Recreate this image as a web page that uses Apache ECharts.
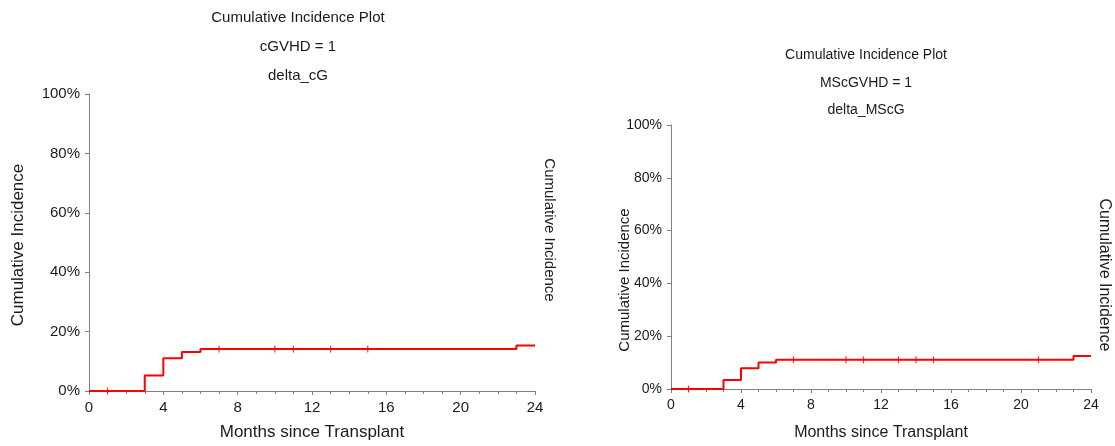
<!DOCTYPE html>
<html>
<head>
<meta charset="utf-8">
<script src="https://cdn.jsdelivr.net/npm/echarts@6/dist/echarts.min.js"></script>
<style>
html,body{margin:0;padding:0;background:#fff;}
#c{width:1115px;height:446px;}
</style>
</head>
<body>
<div id="c"></div>
<script>
// Left panel: cGVHD = 1
var leftTitle = ['Cumulative Incidence Plot', 'cGVHD = 1', 'delta_cG'];
var leftSteps = [[0, 0], [3, 5.25], [4, 11.0], [5, 13.1], [6, 14.1], [23, 15.3], [24, 15.3]];
var leftCensor = [[1, 0], [7, 14.1], [10, 14.1], [11, 14.1], [13, 14.1], [15, 14.1]];

// Right panel: MScGVHD = 1
var rightTitle = ['Cumulative Incidence Plot', 'MScGVHD = 1', 'delta_MScG'];
var rightSteps = [[0, 0], [3, 3.4], [4, 7.9], [5, 10.0], [6, 11.06], [23, 12.5], [24, 12.5]];
var rightCensor = [[1, 0], [7, 11.06], [10, 11.06], [11, 11.06], [13, 11.06], [14, 11.06], [15, 11.06], [21, 11.06]];

var xLabelText = 'Months since Transplant';
var yLabelText = 'Cumulative Incidence';

var FF = '"Liberation Sans", Arial, sans-serif';
var AX = '#808080';
var TX = '#1a1a1a';

function xAxisCfg(idx, fs, margin, nameFs, nameGap) {
  return {
    type: 'value', gridIndex: idx, min: 0, max: 24, interval: 4,
    name: xLabelText, nameLocation: 'middle', nameGap: nameGap,
    nameTextStyle: {fontFamily: FF, fontSize: nameFs, color: TX},
    axisLine: {show: true, lineStyle: {color: AX, width: 1}},
    axisTick: {show: true, inside: false, length: 4, lineStyle: {color: AX}},
    minorTick: {show: true, splitNumber: 4, length: 3, lineStyle: {color: AX}},
    axisLabel: {fontFamily: FF, fontSize: fs, color: TX, margin: margin},
    splitLine: {show: false}
  };
}
function yAxisCfg(idx, fs, margin) {
  return {
    type: 'value', gridIndex: idx, min: 0, max: 100, interval: 20,
    axisLine: {show: true, lineStyle: {color: AX, width: 1}},
    axisTick: {show: true, inside: false, length: 4, lineStyle: {color: AX}},
    axisLabel: {fontFamily: FF, fontSize: fs, color: TX, margin: margin, formatter: '{value}%'},
    splitLine: {show: false}
  };
}
function stepSeries(idx, data) {
  return {
    type: 'line', xAxisIndex: idx, yAxisIndex: idx, step: 'end', data: data,
    showSymbol: false, symbol: 'none', animation: false,
    lineStyle: {color: '#ff0000', width: 2}
  };
}
function censorSeries(idx, data) {
  return {
    type: 'scatter', xAxisIndex: idx, yAxisIndex: idx, data: data,
    symbol: 'rect', symbolSize: [1.2, 7], animation: false,
    itemStyle: {color: '#ff0000'}
  };
}
function txt(s, x, y, fs, rot) {
  return {
    type: 'text', x: x, y: y, rotation: rot || 0, silent: true,
    style: {text: s, font: fs + 'px ' + FF, fontSize: fs, fontFamily: FF, fill: TX,
            align: 'center', verticalAlign: 'middle', textAlign: 'center', textVerticalAlign: 'middle'}
  };
}

var chart = echarts.init(document.getElementById('c'), null, {renderer: 'canvas'});
chart.setOption({
  backgroundColor: '#ffffff',
  animation: false,
  grid: [
    {left: 89, top: 94, width: 446, height: 299},
    {left: 671, top: 125, width: 420, height: 274}
  ],
  xAxis: [xAxisCfg(0, 15, 9, 17, 33), xAxisCfg(1, 14, 9, 16, 36)],
  yAxis: [yAxisCfg(0, 15, 9), yAxisCfg(1, 14, 9)],
  series: [
    stepSeries(0, leftSteps), censorSeries(0, leftCensor),
    stepSeries(1, rightSteps), censorSeries(1, rightCensor)
  ],
  graphic: [
    txt(leftTitle[0], 298, 18, 15), txt(leftTitle[1], 298, 47, 15), txt(leftTitle[2], 298, 76, 15),
    txt(rightTitle[0], 866, 55, 14), txt(rightTitle[1], 866, 83, 14), txt(rightTitle[2], 866, 110, 14),
    txt(yLabelText, 18, 245, 17, Math.PI / 2),
    txt(yLabelText, 549, 230, 15, -Math.PI / 2),
    txt(yLabelText, 625, 280, 15, Math.PI / 2),
    txt(yLabelText, 1104, 275, 16, -Math.PI / 2)
  ]
});
</script>
</body>
</html>
